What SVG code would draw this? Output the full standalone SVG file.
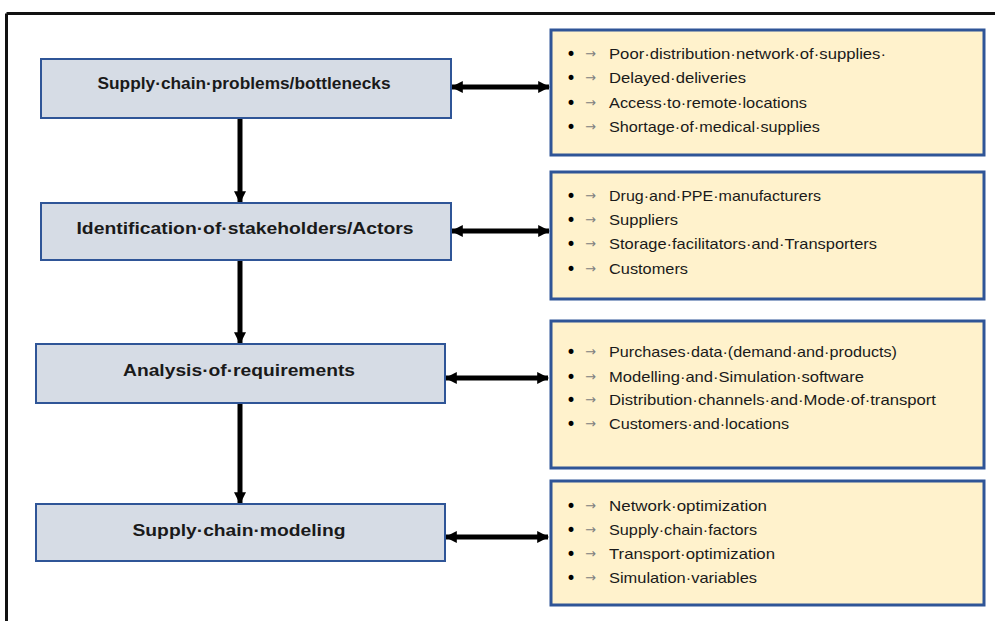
<svg xmlns="http://www.w3.org/2000/svg" width="995" height="621" viewBox="0 0 995 621">
<style>
.node rect{fill:#d6dce5;stroke:#2f5597;stroke-width:2}
.list rect{fill:#fff2cc;stroke:#2f5597;stroke-width:3}
.lbl{font-family:"Liberation Sans",Arial,sans-serif;font-weight:bold;font-size:16px;fill:#1a1a1a;text-anchor:middle}
.it{font-family:"Liberation Sans",Arial,sans-serif;font-size:15px;fill:#1a1a1a}
.bul{font-family:"DejaVu Sans",sans-serif;font-size:17px;fill:#000}
.arr{font-family:"DejaVu Sans",sans-serif;font-size:13px;fill:#808080}
.conn line{stroke:#000;stroke-width:5}
</style>
<defs>
<marker id="ah" viewBox="0 0 10 10" refX="9" refY="5" markerWidth="12" markerHeight="12" markerUnits="userSpaceOnUse" orient="auto-start-reverse">
<path d="M0,0 L10,5 L0,10 Z" fill="#000"/>
</marker>
</defs>
<rect width="995" height="621" fill="#fff"/>
<g id="frame" stroke="#111" stroke-width="3" fill="none">
<line x1="6.5" y1="13.5" x2="995" y2="13.5"/>
<line x1="6.5" y1="13.5" x2="6.5" y2="621"/>
</g>
<g class="conn" id="connectors">
<line x1="240" y1="119" x2="240" y2="202" marker-end="url(#ah)"/>
<line x1="240" y1="261" x2="240" y2="343" marker-end="url(#ah)"/>
<line x1="240" y1="404" x2="240" y2="503" marker-end="url(#ah)"/>
<line x1="452" y1="87" x2="549" y2="87" marker-start="url(#ah)" marker-end="url(#ah)"/>
<line x1="452" y1="231" x2="549" y2="231" marker-start="url(#ah)" marker-end="url(#ah)"/>
<line x1="446" y1="378" x2="548" y2="378" marker-start="url(#ah)" marker-end="url(#ah)"/>
<line x1="446" y1="537" x2="548" y2="537" marker-start="url(#ah)" marker-end="url(#ah)"/>
</g>
<g class="node" id="n1"><rect x="41" y="59" width="410" height="59"/><text class="lbl" x="244" y="89" textLength="293" lengthAdjust="spacingAndGlyphs">Supply·chain·problems/bottlenecks</text></g>
<g class="node" id="n2"><rect x="41" y="203" width="410" height="57"/><text class="lbl" x="245" y="234" textLength="337" lengthAdjust="spacingAndGlyphs">Identification·of·stakeholders/Actors</text></g>
<g class="node" id="n3"><rect x="36" y="344" width="409" height="59"/><text class="lbl" x="239" y="376" textLength="232" lengthAdjust="spacingAndGlyphs">Analysis·of·requirements</text></g>
<g class="node" id="n4"><rect x="36" y="504" width="409" height="57"/><text class="lbl" x="239" y="536" textLength="213" lengthAdjust="spacingAndGlyphs">Supply·chain·modeling</text></g>
<g class="list" id="l1"><rect x="551" y="30" width="433" height="125"/>
<text class="bul" x="566" y="60">•</text><text class="arr" x="585" y="58">→</text><text class="it" x="609" y="59" textLength="277" lengthAdjust="spacingAndGlyphs">Poor·distribution·network·of·supplies·</text>
<text class="bul" x="566" y="84">•</text><text class="arr" x="585" y="82">→</text><text class="it" x="609" y="83" textLength="137" lengthAdjust="spacingAndGlyphs">Delayed·deliveries</text>
<text class="bul" x="566" y="109">•</text><text class="arr" x="585" y="107">→</text><text class="it" x="609" y="108" textLength="198" lengthAdjust="spacingAndGlyphs">Access·to·remote·locations</text>
<text class="bul" x="566" y="133">•</text><text class="arr" x="585" y="131">→</text><text class="it" x="609" y="132" textLength="211" lengthAdjust="spacingAndGlyphs">Shortage·of·medical·supplies</text>
</g>
<g class="list" id="l2"><rect x="551" y="172" width="433" height="127"/>
<text class="bul" x="566" y="202">•</text><text class="arr" x="585" y="200">→</text><text class="it" x="609" y="201" textLength="212" lengthAdjust="spacingAndGlyphs">Drug·and·PPE·manufacturers</text>
<text class="bul" x="566" y="226">•</text><text class="arr" x="585" y="224">→</text><text class="it" x="609" y="225" textLength="69" lengthAdjust="spacingAndGlyphs">Suppliers</text>
<text class="bul" x="566" y="250">•</text><text class="arr" x="585" y="248">→</text><text class="it" x="609" y="249" textLength="268" lengthAdjust="spacingAndGlyphs">Storage·facilitators·and·Transporters</text>
<text class="bul" x="566" y="275">•</text><text class="arr" x="585" y="273">→</text><text class="it" x="609" y="274" textLength="79" lengthAdjust="spacingAndGlyphs">Customers</text>
</g>
<g class="list" id="l3"><rect x="551" y="321" width="433" height="147"/>
<text class="bul" x="566" y="358">•</text><text class="arr" x="585" y="356">→</text><text class="it" x="609" y="357" textLength="288" lengthAdjust="spacingAndGlyphs">Purchases·data·(demand·and·products)</text>
<text class="bul" x="566" y="383">•</text><text class="arr" x="585" y="381">→</text><text class="it" x="609" y="382" textLength="255" lengthAdjust="spacingAndGlyphs">Modelling·and·Simulation·software</text>
<text class="bul" x="566" y="406">•</text><text class="arr" x="585" y="404">→</text><text class="it" x="609" y="405" textLength="327" lengthAdjust="spacingAndGlyphs">Distribution·channels·and·Mode·of·transport</text>
<text class="bul" x="566" y="430">•</text><text class="arr" x="585" y="428">→</text><text class="it" x="609" y="429" textLength="180" lengthAdjust="spacingAndGlyphs">Customers·and·locations</text>
</g>
<g class="list" id="l4"><rect x="551" y="481" width="433" height="124"/>
<text class="bul" x="566" y="512">•</text><text class="arr" x="585" y="510">→</text><text class="it" x="609" y="511" textLength="158" lengthAdjust="spacingAndGlyphs">Network·optimization</text>
<text class="bul" x="566" y="536">•</text><text class="arr" x="585" y="534">→</text><text class="it" x="609" y="535" textLength="148" lengthAdjust="spacingAndGlyphs">Supply·chain·factors</text>
<text class="bul" x="566" y="560">•</text><text class="arr" x="585" y="558">→</text><text class="it" x="609" y="559" textLength="166" lengthAdjust="spacingAndGlyphs">Transport·optimization</text>
<text class="bul" x="566" y="584">•</text><text class="arr" x="585" y="582">→</text><text class="it" x="609" y="583" textLength="148" lengthAdjust="spacingAndGlyphs">Simulation·variables</text>
</g>
</svg>
